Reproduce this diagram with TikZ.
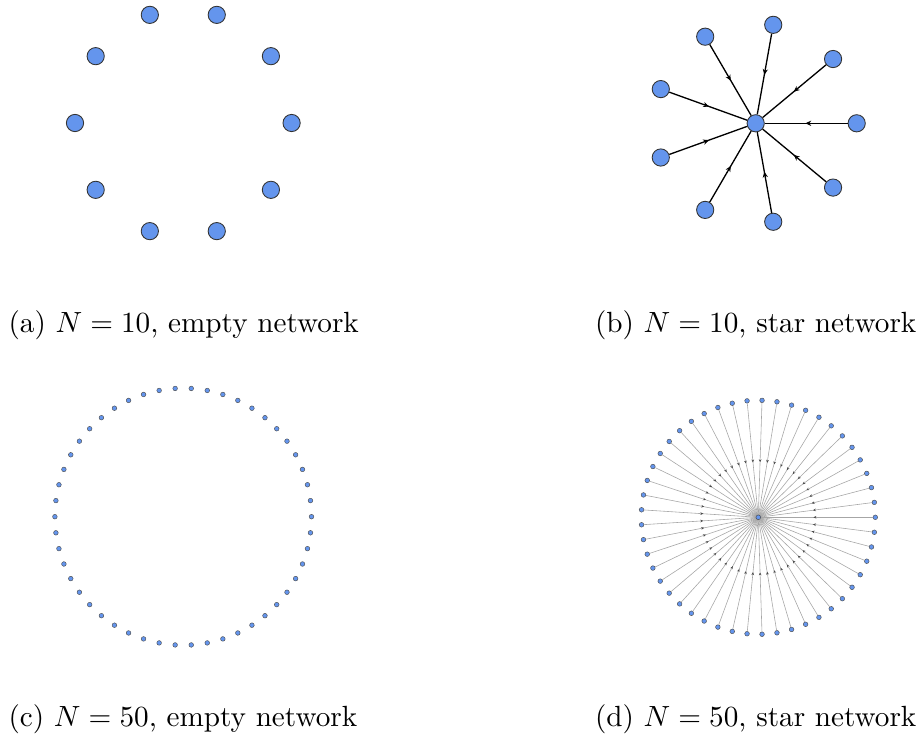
\documentclass[tikz,border=0pt]{standalone}
\usetikzlibrary{arrows.meta,decorations.markings}
\definecolor{nodeblue}{RGB}{100,149,237}
\begin{document}
\begin{tikzpicture}[x=0.3425pt,y=-0.3425pt,
  bignode/.style={circle,fill=nodeblue,draw=black!80,line width=0.3pt,minimum size=5.9pt,inner sep=0pt},
  smallnode/.style={circle,fill=nodeblue,draw=black!70,line width=0.15pt,minimum size=1.6pt,inner sep=0pt},
  bigedge/.style={black,line width=0.45pt,postaction={decorate},
    decoration={markings,mark=at position 0.51 with {\arrow{Stealth[length=2pt,width=1.8pt]}}}},
  smalledge/.style={black!35,line width=0.2pt,postaction={decorate},
    decoration={markings,mark=at position 0.53 with {\arrow[black!70]{Stealth[length=1pt,width=0.9pt]}}}},
  caption/.style={font=\fontsize{10}{12}\selectfont,inner sep=0pt}]
\useasboundingbox (0,0) rectangle (923,738);

% (a) empty network, N=10
\foreach \i in {0,...,9}{
  \node[bignode] (a\i) at ({183.3+108.3*cos(\i*36)},{123-113.7*sin(\i*36)}) {};
}

% (b) star network, N=10
\node[bignode] (bc) at (755.7,123.3) {};
\foreach \i in {0,...,8}{
  \node[bignode] (b\i) at ({755.7+101*cos(\i*40)},{123.3-100*sin(\i*40)}) {};
}
\foreach \i in {0,...,8}{
  \draw[bigedge] (b\i) -- (bc);
}

% (c) empty network, N=50
\foreach \i in {0,...,49}{
  \node[smallnode] (c\i) at ({183.2+128.3*cos(\i*7.2)},{516.7-128.5*sin(\i*7.2)}) {};
}

% (d) star network, N=50
\node[smallnode] (dc) at (758.3,517.3) {};
\foreach \i in {0,...,48}{
  \node[smallnode] (d\i) at ({758.3+117*cos(\i*7.3469388)},{517.3-117*sin(\i*7.3469388)}) {};
}
\foreach \i in {0,...,48}{
  \draw[smalledge] (d\i) -- (dc);
}
\node[smallnode] at (dc) {};

% captions
\node[caption,anchor=base west] (capa) at (8,333) {(a) $N=10$, empty network};
\node[caption,anchor=base east] (capb) at (917,333) {(b) $N=10$, star network};
\node[caption,anchor=base west] (capc) at (8,726.5) {(c) $N=50$, empty network};
\node[caption,anchor=base east] (capd) at (917,726.5) {(d) $N=50$, star network};
\end{tikzpicture}
\end{document}
